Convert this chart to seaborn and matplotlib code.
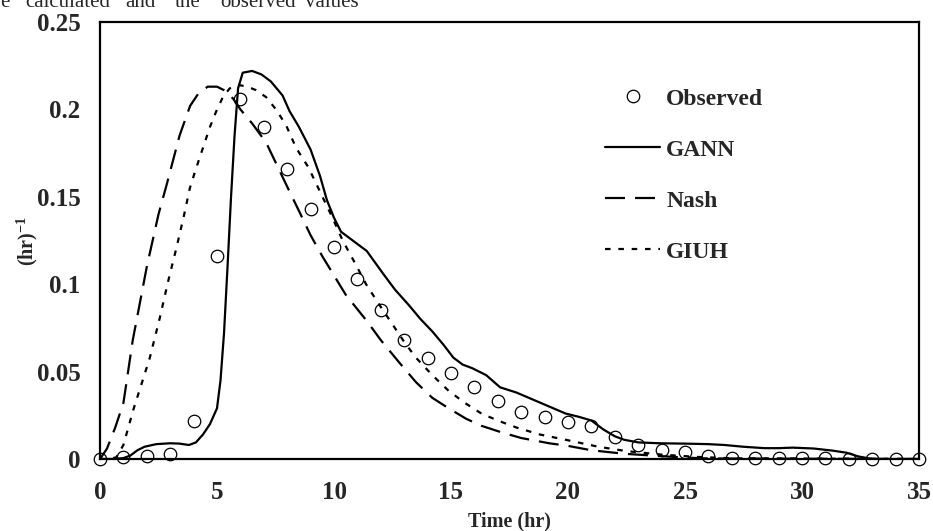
import numpy as np
import pandas as pd
import matplotlib
matplotlib.use("Agg")
import matplotlib.pyplot as plt
import seaborn as sns

# observed unit hydrograph ordinates (hourly)
obs_hr = list(range(0, 36))
obs_val = [0, 0.001, 0.002, 0.003, 0.022, 0.116, 0.206, 0.190, 0.166, 0.143,
           0.121, 0.103, 0.085, 0.068, 0.058, 0.049, 0.041, 0.033, 0.027, 0.024,
           0.021, 0.019, 0.0125, 0.008, 0.005, 0.004, 0.0017, 0.0005, 0.0003, 0.0003,
           0.0003, 0.0003, 0.0002, 0.0002, 0.0002, 0.0002]

# GANN model curve
gann_hr = [0, 0.5, 1.0, 1.3, 1.6, 1.9, 2.4, 3.0, 3.4, 3.8, 4.1, 4.4, 4.7, 5.0, 5.15,
           5.3, 5.45, 5.6, 5.75, 5.9, 6.1, 6.5, 6.9, 7.3, 7.8, 8.1, 8.5, 9.0, 9.4,
           9.7, 10.0, 10.3, 10.8, 11.4, 12.1, 12.6, 13.2, 13.7, 14.2, 14.7, 15.1,
           15.5, 15.9, 16.5, 17.1, 17.8, 18.5, 19.2, 19.9, 20.5, 21.0, 21.5, 22.0,
           22.4, 23.0, 23.9, 25.0, 26.0, 26.7, 27.5, 28.4, 29.0, 29.6, 30.5, 31.3,
           31.9, 32.4, 33.0, 35.0]
gann_val = [0, 0, 0.0005, 0.002, 0.005, 0.007, 0.0085, 0.009, 0.0088, 0.008, 0.0095,
            0.014, 0.02, 0.029, 0.045, 0.072, 0.11, 0.15, 0.185, 0.212, 0.221, 0.222,
            0.22, 0.216, 0.208, 0.199, 0.19, 0.177, 0.162, 0.148, 0.138, 0.13, 0.125,
            0.119, 0.106, 0.097, 0.088, 0.08, 0.073, 0.065, 0.058, 0.054, 0.052, 0.048,
            0.041, 0.038, 0.034, 0.030, 0.026, 0.024, 0.022, 0.017, 0.013, 0.011,
            0.0095, 0.009, 0.0088, 0.0085, 0.008, 0.007, 0.0062, 0.0062, 0.0065, 0.006,
            0.0048, 0.0036, 0.0015, 0.0, 0.0]

# Nash model curve
nash_hr = [0, 0.3, 0.65, 1.0, 1.4, 2.0, 2.5, 2.85, 3.4, 3.85, 4.2, 4.6, 5.0, 5.3, 5.7,
           6.0, 6.5, 7.1, 7.6, 8.1, 8.5, 9.0, 9.5, 10.0, 10.5, 11.4, 12.0, 12.8, 13.5,
           14.2, 14.9, 15.65, 16.3, 17.1, 18.0, 19.2, 20.0, 21.0, 22.4, 23.9, 25.0,
           26.0, 35.0]
nash_val = [0, 0.006, 0.018, 0.032, 0.068, 0.11, 0.14, 0.157, 0.185, 0.202, 0.209,
            0.213, 0.213, 0.211, 0.206, 0.2, 0.192, 0.181, 0.167, 0.153, 0.142, 0.128,
            0.116, 0.105, 0.094, 0.079, 0.068, 0.055, 0.044, 0.035, 0.029, 0.023,
            0.019, 0.0155, 0.012, 0.009, 0.0075, 0.005, 0.003, 0.0017, 0.0008, 0.0003, 0]

# GIUH model curve
giuh_hr = [0, 0.4, 0.7, 1.0, 1.42, 1.8, 2.13, 2.56, 2.9, 3.27, 3.6, 3.84, 4.1, 4.4,
           4.7, 4.97, 5.25, 5.54, 5.9, 6.3, 6.67, 7.1, 7.52, 7.95, 8.38, 8.9, 9.4,
           9.9, 10.37, 10.9, 11.37, 11.9, 12.5, 13.0, 13.5, 14.2, 14.9, 15.6, 16.3,
           17.0, 17.8, 18.8, 19.9, 21.3, 22.5, 24.0, 25.5, 27.0, 35.0]
giuh_val = [0, 0, 0.001, 0.008, 0.028, 0.044, 0.058, 0.081, 0.101, 0.121, 0.14, 0.155,
            0.166, 0.178, 0.19, 0.199, 0.207, 0.212, 0.214, 0.213, 0.211, 0.207, 0.2,
            0.191, 0.178, 0.167, 0.153, 0.139, 0.125, 0.112, 0.1, 0.089, 0.077, 0.067,
            0.058, 0.048, 0.039, 0.032, 0.026, 0.022, 0.018, 0.014, 0.011, 0.007,
            0.0045, 0.0025, 0.0012, 0.0004, 0]

xticks = [0, 5, 10, 15, 20, 25, 30, 35]
yticks = [0, 0.05, 0.1, 0.15, 0.2, 0.25]
ytick_labels = ['0', '0.05', '0.1', '0.15', '0.2', '0.25']
caption_words = ['e', 'calculated', 'and', 'the', 'observed', 'values']

sns.set_style('white')
plt.rcParams['font.family'] = ['Liberation Serif', 'DejaVu Serif']
plt.rcParams['font.weight'] = 'bold'
plt.rcParams['mathtext.fontset'] = 'custom'
plt.rcParams['mathtext.rm'] = 'Liberation Serif:bold'
plt.rcParams['mathtext.default'] = 'rm'

fig = plt.figure(figsize=(9.33, 5.31), dpi=100)
ax = fig.add_axes([100/933, 1 - 459/531, 819/933, 437/531])

obs = pd.DataFrame({'hr': obs_hr, 'val': obs_val})
gann = pd.DataFrame({'hr': gann_hr, 'val': gann_val})
nash = pd.DataFrame({'hr': nash_hr, 'val': nash_val})
giuh = pd.DataFrame({'hr': giuh_hr, 'val': giuh_val})

sns.lineplot(data=obs, x='hr', y='val', ax=ax, linestyle='none', marker='o',
             markersize=9, markerfacecolor='none', markeredgecolor='k',
             markeredgewidth=0.9, clip_on=False, label='Observed', zorder=5)
sns.lineplot(data=gann, x='hr', y='val', ax=ax, color='k', lw=1.6, label='GANN')
sns.lineplot(data=nash, x='hr', y='val', ax=ax, color='k', lw=1.6,
             linestyle=(0, (9, 4.5)), label='Nash')
sns.lineplot(data=giuh, x='hr', y='val', ax=ax, color='k', lw=1.6,
             linestyle=(0, (2.5, 3.5)), label='GIUH')

ax.set_xlim(0, 35)
ax.set_ylim(0, 0.25)
ax.set_xticks(xticks)
ax.set_xticklabels([str(t) for t in xticks])
ax.set_yticks(yticks)
ax.set_yticklabels(ytick_labels)
ax.tick_params(axis='both', direction='out', length=5, width=0.8, color='k',
               labelsize=18)
ax.tick_params(axis='x', pad=11)
ax.tick_params(axis='y', pad=9)
for s in ax.spines.values():
    s.set_color('k')
    s.set_linewidth(1.6)

ax.set_xlabel('Time (hr)', fontsize=14.5, fontweight='bold')
ax.set_ylabel('(hr)$^{-1}$', fontsize=14.5, fontweight='bold')
ax.xaxis.set_label_coords(0.5, -0.121)
ax.yaxis.set_label_coords(-0.073, 0.5)

leg = ax.legend(loc='upper left', bbox_to_anchor=(0.617, 0.849), frameon=False,
                fontsize=17, handlelength=2.33, handletextpad=0.25,
                labelspacing=1.25, borderpad=0, borderaxespad=0)

# clipped caption line left over at the top of the image
xs = [0, 25, 125, 175, 220, 305]
for w, x in zip(caption_words, xs):
    fig.text(x/933, 1 - 7/531, w, fontsize=15, fontweight='normal',
             va='baseline', ha='left')

fig.savefig('out.png', dpi=100)
